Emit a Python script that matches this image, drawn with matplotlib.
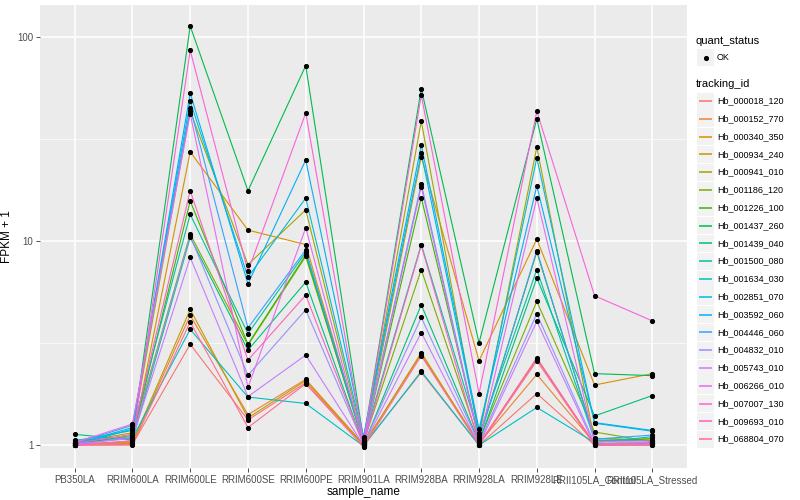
import pandas as pd
import numpy as np
import matplotlib
matplotlib.use("Agg")
import matplotlib.pyplot as plt
import matplotlib.ticker as ticker
from matplotlib.patches import Rectangle

plt.rcParams['font.family'] = ['Liberation Sans', 'DejaVu Sans']

# samples on the x axis
samples = ["PB350LA", "RRIM600LA", "RRIM600LE", "RRIM600SE", "RRIM600PE",
           "RRIM901LA", "RRIM928BA", "RRIM928LA", "RRIM928LE",
           "RRII105LA_Control", "RRII105LA_Stressed"]

tracking_ids = ["Hb_000018_120", "Hb_000152_770", "Hb_000340_350", "Hb_000934_240",
                "Hb_000941_010", "Hb_001186_120", "Hb_001226_100", "Hb_001437_260",
                "Hb_001439_040", "Hb_001500_080", "Hb_001634_030", "Hb_002851_070",
                "Hb_003592_060", "Hb_004446_060", "Hb_004832_010", "Hb_005743_010",
                "Hb_006266_010", "Hb_007007_130", "Hb_009693_010", "Hb_068804_070"]

# ggplot hue palette, 20 levels
colors = ["#F8766D", "#EA8331", "#D89000", "#C09B00", "#A3A500", "#7CAE00",
          "#39B600", "#00BB4E", "#00BF7D", "#00C1A3", "#00BFC4", "#00BAE0",
          "#00B0F6", "#35A2FF", "#9590FF", "#C77CFF", "#E76BF3", "#FA62DB",
          "#FF62BC", "#FF6C91"]

# FPKM + 1 per sample, in tracking_id order
pb350la = [1.00, 1.01, 1.00, 1.02, 1.03, 1.00, 1.04, 1.02, 1.13, 1.05,
           1.06, 1.01, 1.00, 1.02, 1.00, 1.01, 1.03, 1.00, 1.02, 1.00]
rrim600la = [1.01, 1.02, 1.05, 1.03, 1.15, 1.12, 1.08, 1.10, 1.06, 1.18,
             1.08, 1.22, 1.20, 1.25, 1.10, 1.08, 1.27, 1.05, 1.13, 1.00]
rrim600le = [3.12, 4.32, 27.3, 4.62, 43.2, 10.8, 15.7, 112.8, 10.4, 13.5,
             3.69, 48.2, 52.9, 45.0, 10.6, 8.3, 42.0, 85.7, 17.6, 4.01]
rrim600se = [1.33, 1.41, 11.3, 1.36, 7.66, 3.09, 3.12, 17.6, 2.92, 3.52,
             1.72, 6.65, 6.17, 3.75, 2.2, 1.73, 1.92, 7.1, 2.61, 1.22]
rrim600pe = [2.02, 2.1, 9.6, 2.07, 14.2, 8.4, 8.55, 72.2, 6.29, 8.8,
             1.6, 16.2, 24.9, 9.04, 4.6, 2.76, 11.6, 42.3, 5.43, 2.0]
rrim901la = [1.00, 1.01, 1.02, 1.00, 1.04, 1.03, 1.02, 1.06, 1.00, 1.05,
             0.99, 1.08, 1.10, 1.03, 1.01, 1.00, 1.02, 1.04, 1.01, 0.98]
rrim928ba = [2.27, 2.79, 25.8, 2.84, 38.6, 7.24, 16.3, 55.7, 4.87, 9.6,
             2.3, 26.9, 29.5, 19.0, 4.22, 3.56, 18.4, 51.7, 9.5, 2.74]
rrim928la = [1.00, 1.02, 2.59, 1.01, 1.10, 1.05, 1.08, 3.17, 1.03, 1.12,
             1.00, 1.15, 1.20, 1.06, 1.02, 1.00, 1.04, 1.79, 1.01, 1.00]
rrim928le = [1.79, 2.22, 10.2, 2.64, 28.8, 5.06, 8.84, 39.6, 6.58, 7.24,
             1.53, 25.5, 18.6, 8.97, 4.4, 4.04, 16.2, 43.1, 2.68, 2.59]
rrii105_control = [1.00, 1.02, 1.97, 1.01, 1.05, 1.16, 1.08, 2.24, 1.39, 1.06,
                   1.03, 1.28, 1.29, 1.07, 1.02, 1.00, 1.04, 5.39, 1.01, 1.00]
rrii105_stressed = [1.00, 1.03, 2.24, 1.02, 1.08, 1.04, 1.06, 2.19, 1.75, 1.05,
                    1.10, 1.17, 1.18, 1.12, 1.03, 1.01, 1.05, 4.06, 1.02, 1.00]

df = pd.DataFrame([pb350la, rrim600la, rrim600le, rrim600se, rrim600pe, rrim901la,
                   rrim928ba, rrim928la, rrim928le, rrii105_control, rrii105_stressed],
                  index=samples, columns=tracking_ids)

fig = plt.figure(figsize=(8, 5), dpi=100)
ax = fig.add_axes([40 / 800, 32 / 500, 647 / 800, 463 / 500])
ax.set_facecolor("#EBEBEB")
for s in ax.spines.values():
    s.set_visible(False)

x = np.arange(1, len(samples) + 1)
for tid, col in zip(tracking_ids, colors):
    ax.plot(x, df[tid].values, color=col, lw=0.8, zorder=3)
for tid in tracking_ids:
    ax.plot(x, df[tid].values, ls="none", marker="o", ms=2.7, color="black", zorder=4)

ax.set_yscale("log")
lo = np.log10(df.values.min())
hi = np.log10(df.values.max())
pad = (hi - lo) * 0.05
ax.set_ylim(10 ** (lo - pad), 10 ** (hi + pad))
ax.set_xlim(0.4, len(samples) + 0.6)

ax.yaxis.set_major_locator(ticker.FixedLocator([1, 10, 100]))
ax.yaxis.set_major_formatter(ticker.FixedFormatter(["1", "10", "100"]))
ax.yaxis.set_minor_locator(ticker.FixedLocator([10 ** 0.5, 10 ** 1.5]))
ax.yaxis.set_minor_formatter(ticker.NullFormatter())
ax.set_xticks(x)
ax.set_xticklabels(samples)

ax.grid(True, which="major", color="white", lw=1.1, zorder=0)
ax.grid(True, which="minor", axis="y", color="white", lw=0.5, zorder=0)
ax.set_axisbelow(True)
ax.tick_params(which="major", length=2.8, width=0.6, color="#333333",
               labelsize=7, labelcolor="#4D4D4D", pad=2)
ax.tick_params(which="minor", length=0)

ax.set_xlabel("sample_name", fontsize=8.5, labelpad=1)
ax.set_ylabel("FPKM + 1", fontsize=8.5, labelpad=3)

# legends, drawn in pixel space on an overlay
lg = fig.add_axes([0, 0, 1, 1], facecolor="none")
lg.set_xlim(0, 800)
lg.set_ylim(500, 0)
lg.axis("off")

lg.text(696, 41, "quant_status", fontsize=8, va="center", ha="left")
lg.add_patch(Rectangle((697, 49), 17, 17, color="#F2F2F2", lw=0))
lg.plot([705.5], [57.5], marker="o", ms=2.7, color="black")
lg.text(717, 57.5, "OK", fontsize=6.5, va="center", ha="left")

lg.text(696, 84, "tracking_id", fontsize=8, va="center", ha="left")
y0 = 101
step = 17.8
for i, (tid, col) in enumerate(zip(tracking_ids, colors)):
    yc = y0 + i * step
    lg.add_patch(Rectangle((697, yc - 8.5), 17, 17, color="#F2F2F2", lw=0))
    lg.plot([699, 712], [yc, yc], color=col, lw=1.1, solid_capstyle="butt")
    lg.text(717, yc, tid, fontsize=6.5, va="center", ha="left")

fig.savefig("out.png", dpi=100)
